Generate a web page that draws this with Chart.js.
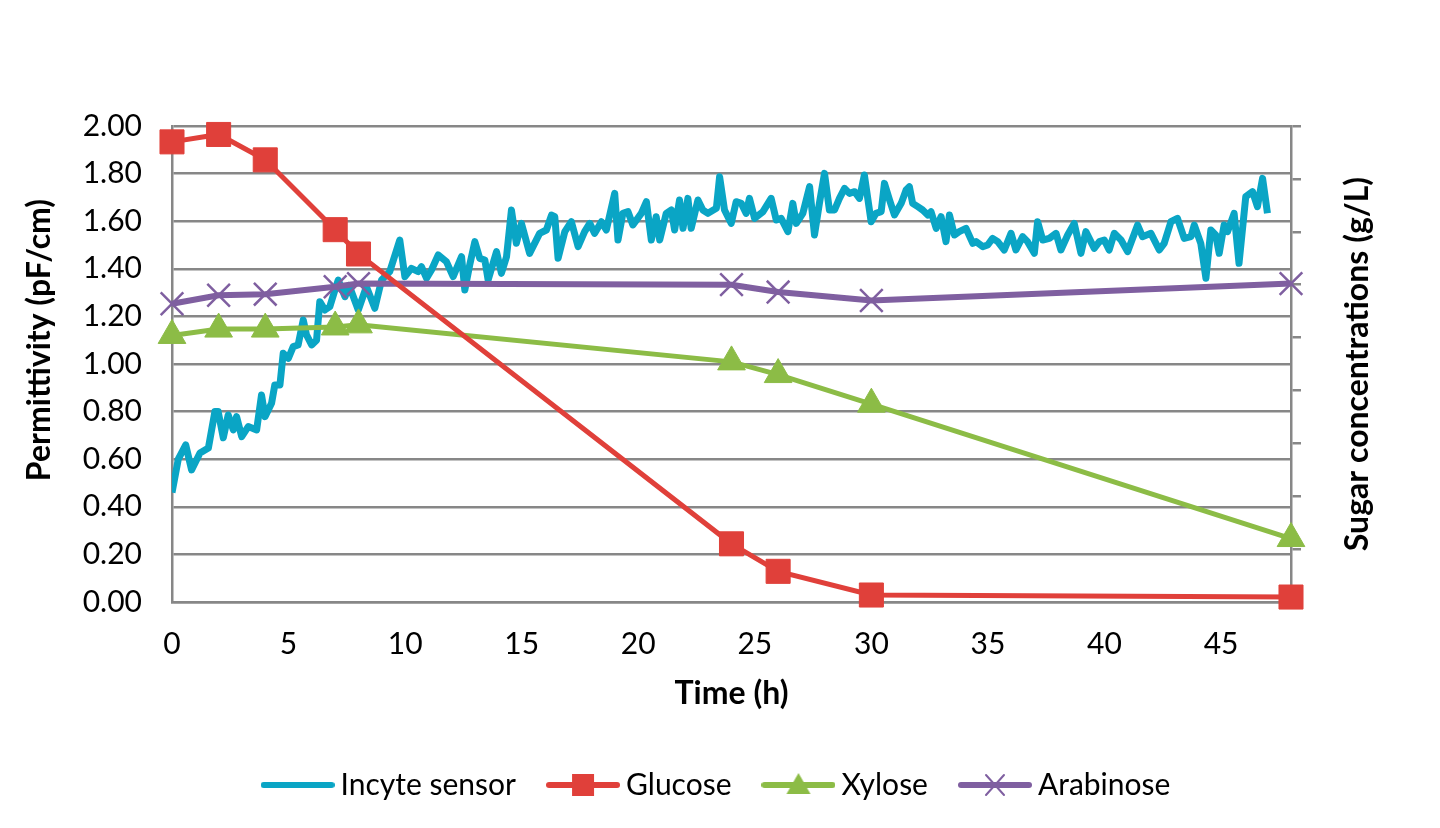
<!DOCTYPE html>
<html>
<head>
<meta charset="utf-8" />
<script src="https://cdn.jsdelivr.net/npm/chart.js"></script>
<style>
  html, body { margin: 0; padding: 0; background: #fff; }
  .wrap { width: 1440px; height: 828px; }
</style>
</head>
<body>
<div class="wrap"><canvas id="sugarChart"></canvas></div>
<script>
// incyte probe, left axis (pF/cm)
const sensorTime = [
  0, 0.27, 0.59, 0.84, 1.2, 1.56, 1.84, 1.98, 2.2, 2.41,
  2.63, 2.77, 2.99, 3.27, 3.63, 3.84, 3.99, 4.27, 4.41, 4.63,
  4.77, 4.99, 5.2, 5.41, 5.63, 5.77, 5.99, 6.2, 6.34, 6.56,
  6.77, 6.99, 7.13, 7.42, 7.6, 7.99, 8.34, 8.7, 8.99, 9.34,
  9.77, 9.99, 10.27, 10.56, 10.7, 10.92, 11.13, 11.42, 11.77, 12.06,
  12.42, 12.56, 12.77, 12.99, 13.2, 13.42, 13.56, 13.92, 14.13, 14.35,
  14.56, 14.77, 14.99, 15.34, 15.77, 16.06, 16.28, 16.42, 16.56, 16.85,
  17.13, 17.42, 17.7, 17.92, 18.13, 18.42, 18.63, 18.99, 19.13, 19.34,
  19.56, 19.77, 20.13, 20.35, 20.56, 20.77, 20.92, 21.2, 21.42, 21.56,
  21.77, 21.92, 22.13, 22.27, 22.56, 22.77, 22.99, 23.35, 23.49, 23.7,
  23.99, 24.2, 24.42, 24.63, 24.77, 24.99, 25.35, 25.7, 25.92, 26.13,
  26.42, 26.63, 26.78, 27.06, 27.35, 27.56, 27.77, 27.99, 28.2, 28.42,
  28.63, 28.85, 29.06, 29.28, 29.49, 29.7, 29.99, 30.2, 30.42, 30.56,
  30.78, 30.99, 31.28, 31.49, 31.63, 31.77, 31.99, 32.2, 32.42, 32.56,
  32.78, 32.99, 33.2, 33.35, 33.56, 33.77, 34.06, 34.35, 34.49, 34.78,
  34.99, 35.2, 35.42, 35.7, 35.99, 36.2, 36.49, 36.7, 36.99, 37.13,
  37.35, 37.63, 37.92, 38.13, 38.42, 38.7, 38.99, 39.2, 39.56, 39.78,
  39.99, 40.2, 40.42, 40.71, 40.99, 41.42, 41.63, 41.99, 42.35, 42.56,
  42.85, 43.13, 43.42, 43.71, 43.85, 44.13, 44.35, 44.56, 44.77, 44.92,
  45.13, 45.28, 45.56, 45.77, 46.06, 46.35, 46.56, 46.78, 46.99
];
const sensorValue = [
  0.46, 0.6, 0.66, 0.555, 0.626, 0.647, 0.8, 0.8, 0.69, 0.786,
  0.723, 0.779, 0.695, 0.737, 0.723, 0.87, 0.779, 0.835, 0.912, 0.912,
  1.045, 1.024, 1.073, 1.08, 1.185, 1.122, 1.08, 1.1, 1.262, 1.227,
  1.241, 1.311, 1.353, 1.283, 1.33, 1.227, 1.325, 1.234, 1.353, 1.388,
  1.521, 1.367, 1.402, 1.388, 1.409, 1.36, 1.395, 1.458, 1.43, 1.367,
  1.451, 1.311, 1.416, 1.514, 1.444, 1.437, 1.353, 1.472, 1.381, 1.451,
  1.647, 1.507, 1.591, 1.465, 1.549, 1.563, 1.626, 1.619, 1.444, 1.556,
  1.598, 1.493, 1.556, 1.591, 1.549, 1.598, 1.563, 1.717, 1.521, 1.633,
  1.64, 1.584, 1.633, 1.682, 1.521, 1.619, 1.521, 1.633, 1.647, 1.563,
  1.689, 1.57, 1.696, 1.57, 1.689, 1.647, 1.633, 1.654, 1.787, 1.647,
  1.591, 1.682, 1.675, 1.633, 1.696, 1.612, 1.64, 1.696, 1.605, 1.612,
  1.556, 1.675, 1.591, 1.633, 1.745, 1.542, 1.675, 1.801, 1.647, 1.647,
  1.696, 1.738, 1.717, 1.724, 1.696, 1.794, 1.598, 1.633, 1.64, 1.759,
  1.689, 1.626, 1.675, 1.731, 1.745, 1.675, 1.661, 1.647, 1.626, 1.64,
  1.57, 1.619, 1.514, 1.626, 1.542, 1.556, 1.57, 1.507, 1.514, 1.493,
  1.5, 1.528, 1.514, 1.479, 1.549, 1.479, 1.535, 1.514, 1.465, 1.598,
  1.521, 1.528, 1.549, 1.479, 1.542, 1.591, 1.465, 1.556, 1.486, 1.514,
  1.521, 1.479, 1.549, 1.521, 1.472, 1.584, 1.535, 1.549, 1.479, 1.507,
  1.598, 1.612, 1.528, 1.535, 1.584, 1.507, 1.36, 1.563, 1.542, 1.465,
  1.584, 1.556, 1.633, 1.423, 1.703, 1.724, 1.661, 1.78, 1.633
];

// HPLC samples, right axis (g/L)
const sampleTime = [0, 2, 4, 7, 8, 24, 26, 30, 48];
const glucose   = [43.5, 44.2, 41.8, 35.2, 32.9, 5.5, 2.9, 0.66, 0.47];
const xylose    = [25.2, 25.8, 25.8, 26.0, 26.2, 22.7, 21.5, 18.7, 6.0];
const arabinose = [28.2, 29.0, 29.1, 29.8, 30.1, 30.0, 29.3, 28.5, 30.1];

const seriesNames = ["Incyte sensor", "Glucose", "Xylose", "Arabinose"];
const leftTicks = { min: 0, max: 2, step: 0.2 };
const rightTicks = { min: 0, max: 45, step: 5 };
const timeTicks = { min: 0, max: 48, step: 5 };

const FONT = "Lato";
const GRID = "#878787";
const colors = {
  sensor: "#0aa5c5",
  glucose: "#e0403a",
  xylose: "#8cbc46",
  arabinose: "#7f5fa0",
};

const pairs = (xs, ys) => xs.map((x, i) => ({ x, y: ys[i] }));

// legend icon: short line with the marker in the middle
function makeIcon(color, marker) {
  const c = document.createElement("canvas");
  c.width = 74;
  c.height = 30;
  const g = c.getContext("2d");
  g.strokeStyle = color;
  g.fillStyle = color;
  g.lineCap = "round";
  g.lineWidth = 6;
  g.beginPath();
  g.moveTo(3, 15);
  g.lineTo(71, 15);
  g.stroke();
  if (marker === "rect") {
    g.fillRect(26, 4, 22, 22);
  } else if (marker === "triangle") {
    g.beginPath();
    g.moveTo(37, 3);
    g.lineTo(49, 24);
    g.lineTo(25, 24);
    g.closePath();
    g.fill();
  } else if (marker === "cross") {
    g.lineWidth = 2;
    g.beginPath();
    g.moveTo(28, 5); g.lineTo(46, 25);
    g.moveTo(46, 5); g.lineTo(28, 25);
    g.stroke();
  }
  return c;
}

const icons = [
  makeIcon(colors.sensor, null),
  makeIcon(colors.glucose, "rect"),
  makeIcon(colors.xylose, "triangle"),
  makeIcon(colors.arabinose, "cross"),
];

// both y titles read bottom-to-top, Excel style
const axisTitles = {
  id: "axisTitles",
  afterDraw(chart) {
    const { ctx, chartArea } = chart;
    const draw = (text, x, y) => {
      ctx.save();
      ctx.translate(x, y);
      ctx.rotate(-Math.PI / 2);
      ctx.font = "bold 32px " + FONT;
      ctx.fillStyle = "#000";
      ctx.textAlign = "center";
      ctx.textBaseline = "middle";
      ctx.fillText(text, 0, 0);
      ctx.restore();
    };
    draw("Permittivity (pF/cm)", chartArea.left - 132, chartArea.top + 214);
    draw("Sugar concentrations (g/L)", chartArea.right + 67, (chartArea.top + chartArea.bottom) / 2);
  },
};

const sugarSet = (label, data, color, style, radius, pbw) => ({
  label,
  data: pairs(sampleTime, data),
  yAxisID: "y2",
  borderColor: color,
  backgroundColor: color,
  borderWidth: 5,
  pointStyle: style,
  pointRadius: radius,
  pointHoverRadius: radius,
  pointBorderWidth: pbw,
  pointBorderColor: color,
  pointBackgroundColor: color,
  tension: 0,
  clip: false,
  order: 1,
});

new Chart(document.getElementById("sugarChart"), {
  type: "line",
  data: {
    datasets: [
      {
        label: seriesNames[0],
        data: pairs(sensorTime, sensorValue),
        yAxisID: "y",
        borderColor: colors.sensor,
        borderWidth: 7,
        borderJoinStyle: "round",
        pointRadius: 0,
        tension: 0,
        order: 2,
      },
      sugarSet(seriesNames[1], glucose, colors.glucose, "rect", 17, 1),
      sugarSet(seriesNames[2], xylose, colors.xylose, "triangle", 16, 1),
      Object.assign(
        sugarSet(seriesNames[3], arabinose, colors.arabinose, "crossRot", 16, 2.5),
        { borderWidth: 6 }
      ),
    ],
  },
  options: {
    responsive: true,
    maintainAspectRatio: false,
    animation: false,
    layout: { padding: { top: 126, left: 0, right: 0, bottom: 18 } },
    plugins: {
      tooltip: { enabled: false },
      legend: {
        position: "bottom",
        labels: {
          usePointStyle: true,
          pointStyleWidth: 56,
          padding: 39,
          color: "#000",
          font: { family: FONT, size: 30 },
          generateLabels: (chart) =>
            chart.data.datasets.map((ds, i) => ({
              text: ds.label,
              pointStyle: icons[i],
              fillStyle: ds.borderColor,
              strokeStyle: ds.borderColor,
              lineWidth: 0,
              hidden: false,
              datasetIndex: i,
            })),
        },
      },
    },
    scales: {
      x: {
        type: "linear",
        min: timeTicks.min,
        max: timeTicks.max,
        afterFit: (scale) => { scale.height = 129; },
        grid: { display: false },
        border: { display: true, color: GRID, width: 2.5 },
        ticks: {
          stepSize: timeTicks.step,
          includeBounds: false,
          padding: 16,
          color: "#000",
          font: { family: FONT, size: 30 },
        },
        title: {
          display: true,
          text: "Time (h)",
          color: "#000",
          font: { family: FONT, size: 32, weight: "bold" },
          padding: { top: 0, bottom: 18 },
        },
      },
      y: {
        position: "left",
        min: leftTicks.min,
        max: leftTicks.max,
        afterFit: (scale) => { scale.width = 172; },
        grid: { color: GRID, lineWidth: 2.5, drawTicks: false },
        border: { display: true, color: GRID, width: 2.5 },
        ticks: {
          stepSize: leftTicks.step,
          padding: 30,
          color: "#000",
          font: { family: FONT, size: 30 },
          callback: (v) => v.toFixed(2),
        },
      },
      y2: {
        position: "right",
        min: rightTicks.min,
        max: rightTicks.max,
        afterFit: (scale) => { scale.width = 149; },
        grid: {
          drawOnChartArea: false,
          color: GRID,
          lineWidth: 2.5,
          tickLength: 10,
        },
        border: { display: true, color: GRID, width: 2.5 },
        ticks: { stepSize: rightTicks.step, display: false },
      },
    },
  },
  plugins: [axisTitles],
});
</script>
</body>
</html>
